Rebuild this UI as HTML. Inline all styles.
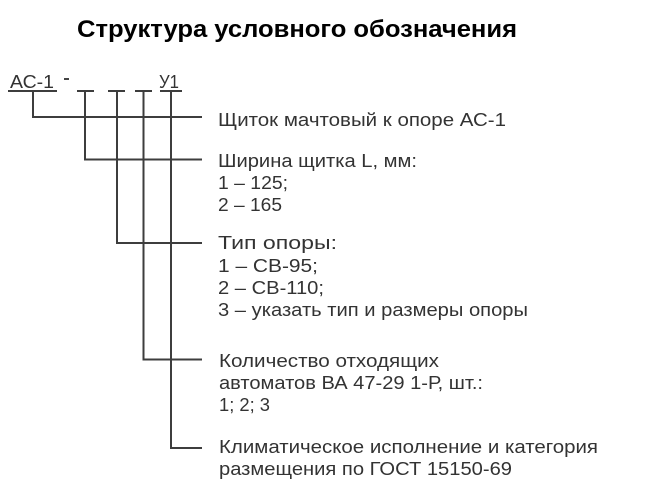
<!DOCTYPE html>
<html>
<head>
<meta charset="utf-8">
<style>
  html, body { margin: 0; padding: 0; background: #ffffff; }
  body { width: 645px; height: 499px; overflow: hidden; }
  svg { display: block; }
  .t { font-family: "Liberation Sans", "Noto Sans CJK SC", sans-serif; font-size: 18px; fill: #333333; }
  .h { font-family: "Liberation Sans", "Noto Sans CJK SC", sans-serif; font-size: 24px; font-weight: bold; fill: #000000; }
</style>
</head>
<body>
<svg width="645" height="499" viewBox="0 0 645 499" xmlns="http://www.w3.org/2000/svg">
  <rect x="0" y="0" width="645" height="499" fill="#ffffff"/>

  <!-- Title -->
  <text class="h" x="77" y="37" textLength="440" lengthAdjust="spacingAndGlyphs">Структура условного обозначения</text>

  <!-- Designation code -->
  <text class="t" x="10" y="88" textLength="44" lengthAdjust="spacingAndGlyphs">АС-1</text>
  <rect x="64" y="78" width="5" height="2" fill="#444"/>
  <text class="t" x="159" y="88" textLength="20" lengthAdjust="spacingAndGlyphs">У1</text>

  <g stroke="#3d3d3d" stroke-width="2" fill="none" stroke-linecap="butt">
    <!-- top bars -->
    <line x1="8" y1="91" x2="57" y2="91"/>
    <line x1="77" y1="91" x2="94" y2="91"/>
    <line x1="108" y1="91" x2="125" y2="91"/>
    <line x1="135" y1="91" x2="152" y2="91"/>
    <line x1="160" y1="91" x2="182" y2="91"/>

    <!-- verticals -->
    <line x1="33" y1="91" x2="33" y2="118"/>
    <line x1="85" y1="91" x2="85" y2="160"/>
    <line x1="117" y1="91" x2="117" y2="244"/>
    <line x1="143.5" y1="91" x2="143.5" y2="360"/>
    <line x1="171" y1="91" x2="171" y2="449"/>

    <!-- horizontals to labels -->
    <line x1="32" y1="117" x2="202" y2="117"/>
    <line x1="84" y1="159.5" x2="202" y2="159.5"/>
    <line x1="116" y1="243" x2="202" y2="243"/>
    <line x1="142.5" y1="359.5" x2="202" y2="359.5"/>
    <line x1="170" y1="448" x2="202" y2="448"/>
  </g>

  <!-- Block 1 -->
  <text class="t" x="218" y="126" textLength="288" lengthAdjust="spacingAndGlyphs">Щиток мачтовый к опоре АС-1</text>

  <!-- Block 2 -->
  <text class="t" x="218" y="167" textLength="199" lengthAdjust="spacingAndGlyphs">Ширина щитка L, мм:</text>
  <text class="t" x="218" y="189" textLength="70" lengthAdjust="spacingAndGlyphs">1 – 125;</text>
  <text class="t" x="218" y="211" textLength="64" lengthAdjust="spacingAndGlyphs">2 – 165</text>

  <!-- Block 3 -->
  <text class="t" x="218" y="249" textLength="119" lengthAdjust="spacingAndGlyphs">Тип опоры:</text>
  <text class="t" x="218" y="272" textLength="100" lengthAdjust="spacingAndGlyphs">1 – СВ-95;</text>
  <text class="t" x="218" y="294" textLength="106" lengthAdjust="spacingAndGlyphs">2 – СВ-110;</text>
  <text class="t" x="218" y="316" textLength="310" lengthAdjust="spacingAndGlyphs">3 – указать тип и размеры опоры</text>

  <!-- Block 4 -->
  <text class="t" x="219" y="367" textLength="220" lengthAdjust="spacingAndGlyphs">Количество отходящих</text>
  <text class="t" x="219" y="389" textLength="264" lengthAdjust="spacingAndGlyphs">автоматов ВА 47-29 1-Р, шт.:</text>
  <text class="t" x="219" y="411" textLength="51" lengthAdjust="spacingAndGlyphs">1; 2; 3</text>

  <!-- Block 5 -->
  <text class="t" x="219" y="453" textLength="379" lengthAdjust="spacingAndGlyphs">Климатическое исполнение и категория</text>
  <text class="t" x="219" y="475" textLength="293" lengthAdjust="spacingAndGlyphs">размещения по ГОСТ 15150-69</text>
</svg>
</body>
</html>
